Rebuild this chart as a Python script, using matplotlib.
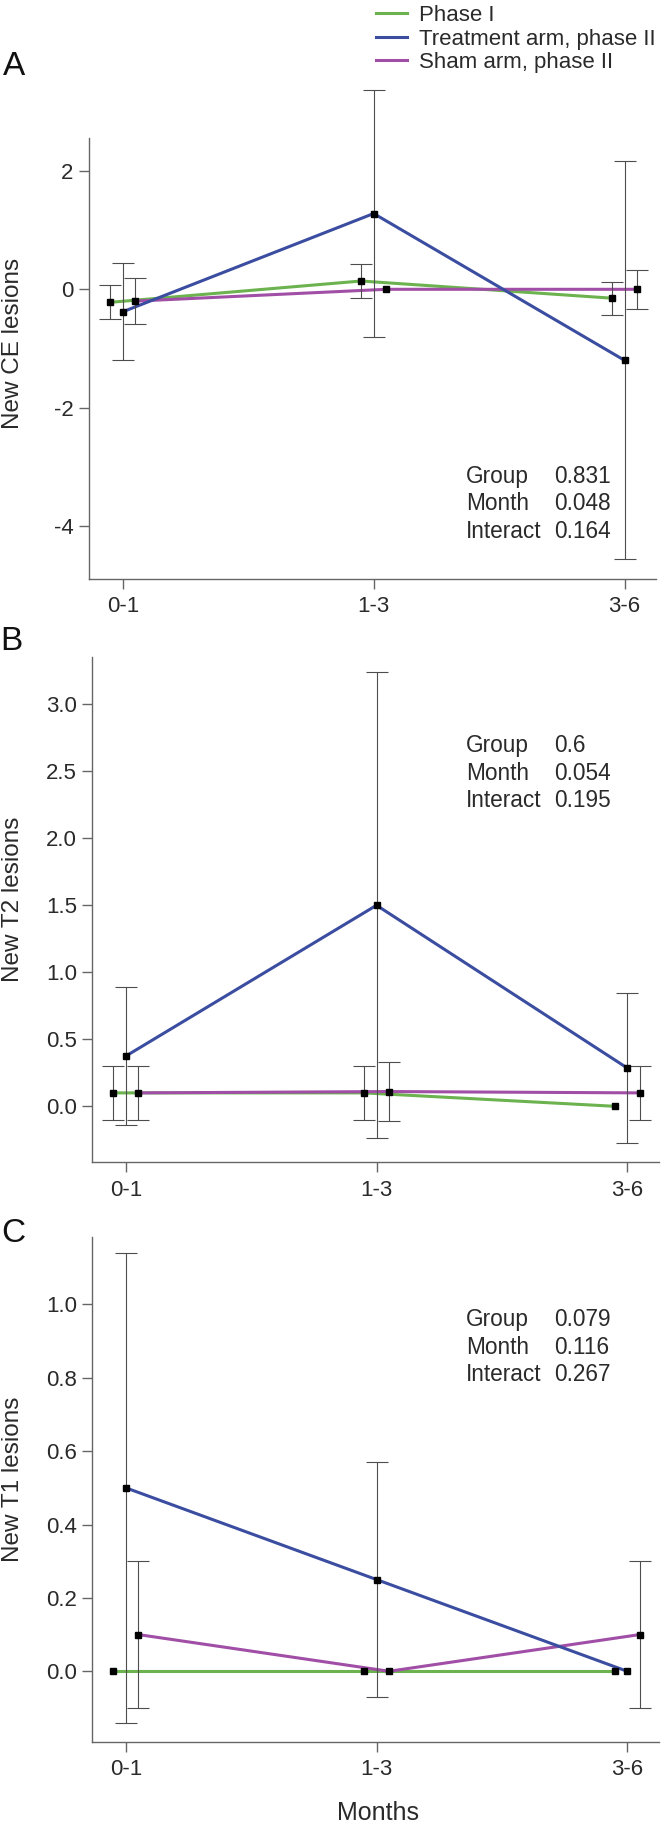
import matplotlib

matplotlib.use("Agg")
import matplotlib.pyplot as plt
import numpy as np

plt.rcParams["font.family"] = ["Liberation Sans", "DejaVu Sans"]

MONTHS = ["0-1", "1-3", "3-6"]
SERIES = ["Phase I", "Treatment arm, phase II", "Sham arm, phase II"]
COLORS = ["#6cb24f", "#3b4da0", "#a04ea6"]
STAT_NAMES = ["Group", "Month", "Interact"]

# A: new CE lesions (mean, error)
ce_phase1 = [-0.22, 0.14, -0.15]
ce_phase1_err = [0.29, 0.28, 0.28]
ce_treat = [-0.38, 1.28, -1.20]
ce_treat_err = [0.82, 2.08, 3.36]
ce_sham = [-0.20, 0.00, 0.00]
ce_sham_err = [0.39, 0.00, 0.33]
ce_pvals = ["0.831", "0.048", "0.164"]
ce_yticks = [-4, -2, 0, 2]
ce_yticklabels = ["-4", "-2", "0", "2"]

# B: new T2 lesions
t2_phase1 = [0.10, 0.10, 0.00]
t2_phase1_err = [0.20, 0.20, 0.00]
t2_treat = [0.375, 1.50, 0.286]
t2_treat_err = [0.515, 1.74, 0.56]
t2_sham = [0.10, 0.11, 0.10]
t2_sham_err = [0.20, 0.22, 0.20]
t2_pvals = ["0.6", "0.054", "0.195"]
t2_yticks = [0.0, 0.5, 1.0, 1.5, 2.0, 2.5, 3.0]
t2_yticklabels = ["0.0", "0.5", "1.0", "1.5", "2.0", "2.5", "3.0"]

# C: new T1 lesions
t1_phase1 = [0.0, 0.0, 0.0]
t1_phase1_err = [0.0, 0.0, 0.0]
t1_treat = [0.50, 0.25, 0.00]
t1_treat_err = [0.64, 0.32, 0.00]
t1_sham = [0.10, 0.00, 0.10]
t1_sham_err = [0.20, 0.00, 0.20]
t1_pvals = ["0.079", "0.116", "0.267"]
t1_yticks = [0.0, 0.2, 0.4, 0.6, 0.8, 1.0]
t1_yticklabels = ["0.0", "0.2", "0.4", "0.6", "0.8", "1.0"]

W, H = 664, 1825
OFFSETS = [-0.05, 0.0, 0.05]
ZORDERS = [2, 2.2, 2.1]
AX_COLOR = "#666666"
TEXT_COLOR = "#2a2a2a"
FS = 16
STAT_FS = 16.3

PANELS = [
    dict(letter="A", means=[ce_phase1, ce_treat, ce_sham],
         errs=[ce_phase1_err, ce_treat_err, ce_sham_err],
         pvals=ce_pvals, yticks=ce_yticks, yticklabels=ce_yticklabels,
         ylim=(-4.894, 2.556), xlim=(-0.135, 2.127), ylabel="New CE lesions",
         box=(88.9, 138, 656.4, 579), letter_xy=(3, 75), stat_y=483, label_y=0.535),
    dict(letter="B", means=[t2_phase1, t2_treat, t2_sham],
         errs=[t2_phase1_err, t2_treat_err, t2_sham_err],
         pvals=t2_pvals, yticks=t2_yticks, yticklabels=t2_yticklabels,
         ylim=(-0.418, 3.355), xlim=(-0.134, 2.125), ylabel="New T2 lesions",
         box=(92.3, 656.7, 658.5, 1162.3), letter_xy=(0, 650), stat_y=752.3, label_y=0.521),
    dict(letter="C", means=[t1_phase1, t1_treat, t1_sham],
         errs=[t1_phase1_err, t1_treat_err, t1_sham_err],
         pvals=t1_pvals, yticks=t1_yticks, yticklabels=t1_yticklabels,
         ylim=(-0.192, 1.183), xlim=(-0.134, 2.125), ylabel="New T1 lesions",
         box=(92.3, 1237.3, 658.5, 1741.7), letter_xy=(1, 1242), stat_y=1326.3, label_y=0.521),
]


def draw_panel(fig, p):
    x0, y0, x1, y1 = p["box"]
    ax = fig.add_axes([x0 / W, 1 - y1 / H, (x1 - x0) / W, (y1 - y0) / H])
    x = np.arange(len(MONTHS))
    handles = []
    for i, (m, e) in enumerate(zip(p["means"], p["errs"])):
        xs = x + OFFSETS[i]
        m = np.array(m)
        e = np.array(e)
        (ln,) = ax.plot(xs, m, color=COLORS[i], lw=2.2, zorder=ZORDERS[i], label=SERIES[i])
        handles.append(ln)
        has = e > 0
        if has.any():
            eb = ax.errorbar(xs[has], m[has], yerr=e[has], fmt="none", ecolor="#4d4d4d",
                             elinewidth=0.8, capsize=8, capthick=0.8, zorder=3)
            for art in eb.get_children():
                art.set_clip_on(False)
        ax.plot(xs, m, ls="none", marker="s", ms=5, color="black", zorder=4, clip_on=False)

    ax.set_xlim(*p["xlim"])
    ax.set_ylim(*p["ylim"])
    ax.set_xticks(x)
    ax.set_xticklabels(MONTHS)
    ax.set_yticks(p["yticks"])
    ax.set_yticklabels(p["yticklabels"])
    for side in ["top", "right"]:
        ax.spines[side].set_visible(False)
    for side in ["left", "bottom"]:
        ax.spines[side].set_color(AX_COLOR)
        ax.spines[side].set_linewidth(1.0)
    ax.tick_params(axis="both", colors=AX_COLOR, labelcolor=TEXT_COLOR, length=7,
                   width=1.0, labelsize=FS)
    ax.tick_params(axis="y", pad=4)
    ax.tick_params(axis="x", pad=5.5)

    ax.set_ylabel(p["ylabel"], fontsize=17.5, color=TEXT_COLOR, va="center")
    ax.yaxis.set_label_coords((12.7 - x0) / (x1 - x0), p["label_y"])

    lx, ly = p["letter_xy"]
    fig.text(lx / W, 1 - ly / H, p["letter"], fontsize=24, color="#111111", va="baseline")

    for k, (name, val) in enumerate(zip(STAT_NAMES, p["pvals"])):
        yb = 1 - (p["stat_y"] + 27.5 * k) / H
        fig.text(465.8 / W, yb, name, fontsize=STAT_FS, color=TEXT_COLOR, va="baseline")
        fig.text(554.2 / W, yb, val, fontsize=STAT_FS, color=TEXT_COLOR, va="baseline")
    return ax, handles


fig = plt.figure(figsize=(W / 100, H / 100), dpi=100)
axes = []
legend_handles = None
for p in PANELS:
    ax, handles = draw_panel(fig, p)
    axes.append(ax)
    if legend_handles is None:
        legend_handles = handles

last = axes[-1]
last.set_xlabel("Months", fontsize=18, color=TEXT_COLOR, va="center")
last.xaxis.set_label_coords(0.504, (1741.7 - 1813.3) / 504.4)

fig.legend(handles=legend_handles, labels=SERIES, loc="center left",
           bbox_to_anchor=(375.6 / W, 1 - 39 / H), frameon=False, fontsize=FS,
           handlelength=1.4, handletextpad=0.57, labelspacing=0.12,
           borderpad=0, borderaxespad=0, labelcolor=TEXT_COLOR)

fig.savefig("out.png", dpi=100)
plt.close(fig)
